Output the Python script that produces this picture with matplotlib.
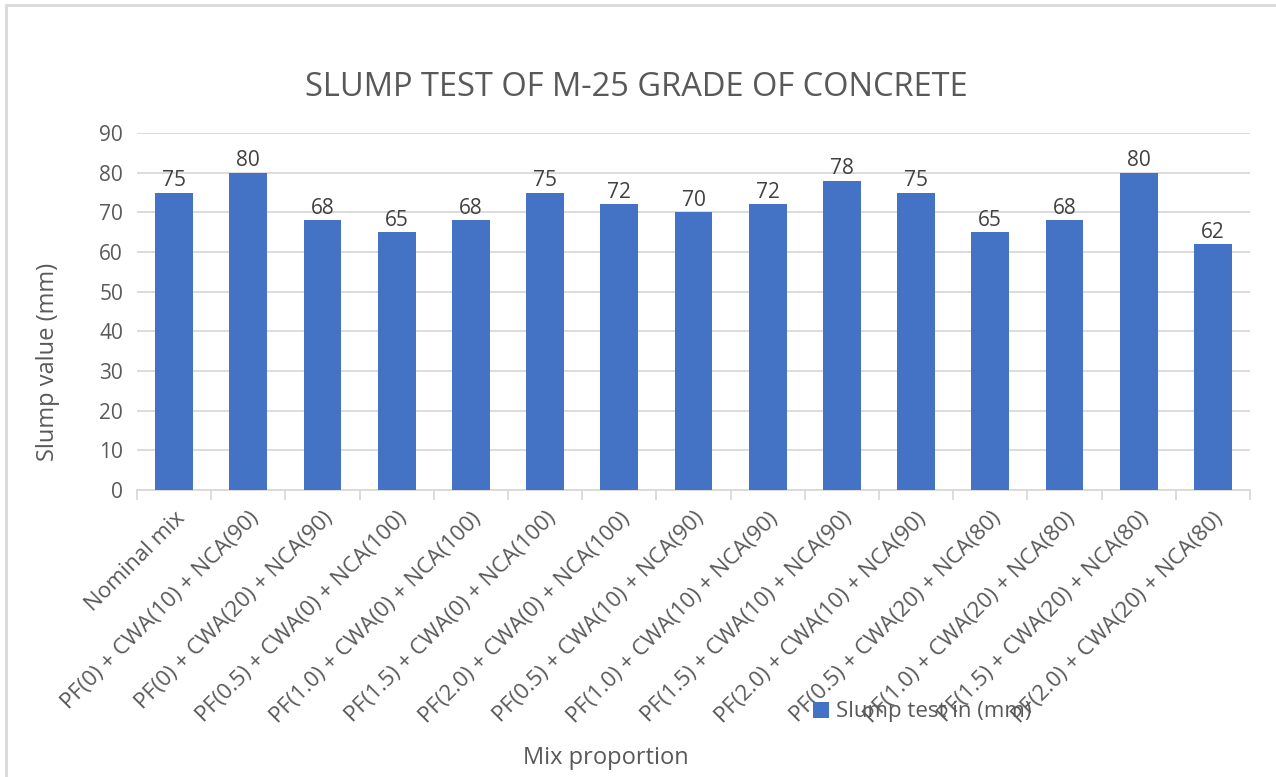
import numpy as np
import matplotlib.pyplot as plt
from matplotlib.patches import Rectangle

# chart data
mixes = [
    "Nominal mix",
    "PF(0) + CWA(10) + NCA(90)",
    "PF(0) + CWA(20) + NCA(90)",
    "PF(0.5) + CWA(0) + NCA(100)",
    "PF(1.0) + CWA(0) + NCA(100)",
    "PF(1.5) + CWA(0) + NCA(100)",
    "PF(2.0) + CWA(0) + NCA(100)",
    "PF(0.5) + CWA(10) + NCA(90)",
    "PF(1.0) + CWA(10) + NCA(90)",
    "PF(1.5) + CWA(10) + NCA(90)",
    "PF(2.0) + CWA(10) + NCA(90)",
    "PF(0.5) + CWA(20) + NCA(80)",
    "PF(1.0) + CWA(20) + NCA(80)",
    "PF(1.5) + CWA(20) + NCA(80)",
    "PF(2.0) + CWA(20) + NCA(80)",
]
slump = [75, 80, 68, 65, 68, 75, 72, 70, 72, 78, 75, 65, 68, 80, 62]
y_ticks = [0, 10, 20, 30, 40, 50, 60, 70, 80, 90]

BAR = "#4472C4"
TXT = "#595959"
LBL = "#404040"
GRID = "#D9D9D9"

plt.rcParams['font.family'] = ['Open Sans', 'DejaVu Sans']

fig = plt.figure(figsize=(12.76, 7.77), dpi=100)
ax = fig.add_axes([137 / 1276, 1 - 490 / 777, (1250 - 137) / 1276, (490 - 133) / 777])

# outer chart border
fig.patches.append(Rectangle((6 / 1276, -0.1), 1.2, 1 - 5 / 777 + 0.1,
                             transform=fig.transFigure, fill=False,
                             edgecolor=GRID, linewidth=2))

x = np.arange(len(mixes))
bars = ax.bar(x, slump, width=0.51, color=BAR, label="Slump test in (mm)", zorder=3)
ax.bar_label(bars, padding=1, fontsize=15, color=LBL)

ax.set_xlim(-0.5, len(mixes) - 0.5)
ax.set_ylim(0, 90)
ax.set_yticks(y_ticks)
ax.yaxis.grid(True, color=GRID, linewidth=1.3, zorder=0)
ax.tick_params(axis='y', length=0, labelsize=15, labelcolor=TXT, pad=10)

ax.set_xticks(x)
ax.set_xticklabels(mixes, rotation=45, ha='right', rotation_mode='anchor')
ax.set_xticks(np.arange(-0.5, len(mixes)), minor=True)
ax.tick_params(axis='x', which='major', length=0, labelsize=16, labelcolor=TXT, pad=13)
ax.tick_params(axis='x', which='minor', length=7, color=GRID, width=1.3)

for side in ['top', 'right', 'left']:
    ax.spines[side].set_visible(False)
ax.spines['bottom'].set_color(GRID)
ax.spines['bottom'].set_linewidth(1.3)

fig.text(636 / 1276, 1 - 88 / 777, "SLUMP TEST OF M-25 GRADE OF CONCRETE",
         ha='center', va='center', fontsize=23.5, color=TXT)
fig.text(48 / 1276, 1 - 362 / 777, "Slump value (mm)", rotation=90,
         ha='center', va='center', fontsize=17, color=TXT)
fig.text(606 / 1276, 1 - 758 / 777, "Mix proportion",
         ha='center', va='center', fontsize=17, color=TXT)

ax.legend(loc='center', bbox_to_anchor=(922 / 1276, 1 - 712 / 777),
          bbox_transform=fig.transFigure, frameon=False, fontsize=16,
          labelcolor=TXT, handlelength=0.75, handleheight=0.75, handletextpad=0.3)

fig.savefig("out.png", dpi=100)
